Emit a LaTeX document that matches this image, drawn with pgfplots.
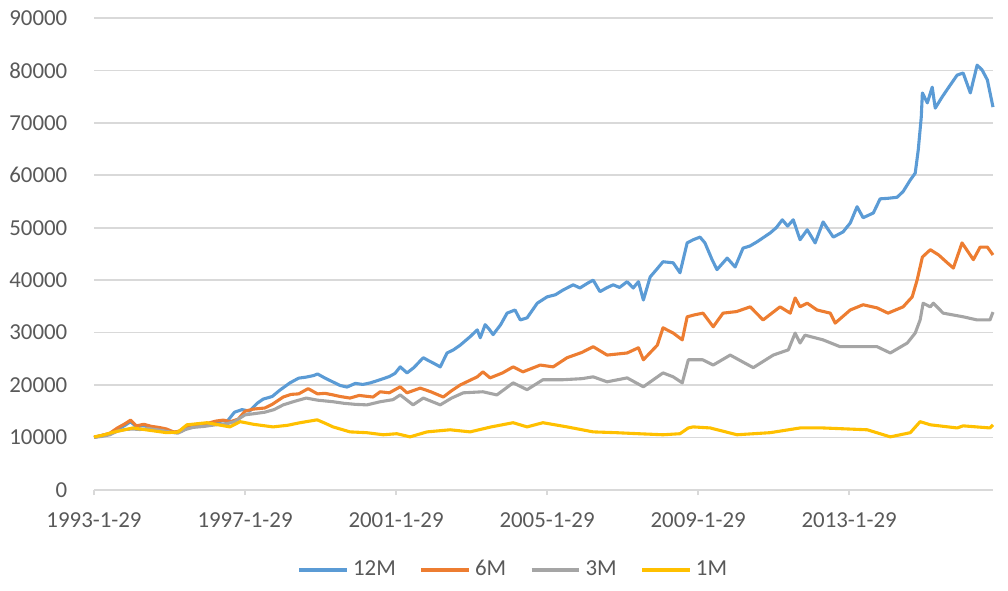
\documentclass[border=0pt]{standalone}
\usepackage{pgfplots}
\pgfplotsset{compat=1.18}
\usepackage{fontspec}
\setmainfont{Carlito}
\definecolor{c12}{RGB}{91,155,213}
\definecolor{c6}{RGB}{237,125,49}
\definecolor{c3}{RGB}{165,165,165}
\definecolor{c1}{RGB}{255,192,0}
\definecolor{txt}{RGB}{89,89,89}
\definecolor{gridc}{RGB}{217,217,217}
\begin{document}
\begin{tikzpicture}
\begin{axis}[
  scale only axis,
  width=377.6pt, height=198.2pt,
  xmin=1993.08, xmax=2016.89,
  ymin=0, ymax=90000,
  ytick={0,10000,...,90000},
  xtick={1993.08,1997.08,2001.08,2005.08,2009.08,2013.08},
  xticklabels={1993-1-29,1997-1-29,2001-1-29,2005-1-29,2009-1-29,2013-1-29},
  scaled ticks=false,
  /pgf/number format/1000 sep={},
  /pgf/number format/assume math mode=true,
  ymajorgrids,
  grid style={gridc, line width=0.7pt},
  separate axis lines,
  axis x line*=bottom,
  axis y line*=left,
  x axis line style={gridc, line width=0.7pt, -},
  y axis line style={draw=none},
  xtick style={gridc, line width=0.7pt},
  ytick style={draw=none},
  tick align=outside,
  major tick length=2.2pt,
  ticklabel style={font=\fontsize{9.6}{11}\selectfont, text=txt},
  yticklabel style={xshift=-5.5pt},
  xticklabel style={yshift=-4pt},
  legend columns=4,
  legend style={draw=none, fill=none, at={(0.468,-0.17)}, anchor=center,
    font=\fontsize{9.6}{11}\selectfont, text=txt,
    /tikz/every even column/.append style={column sep=8pt}},
  legend image code/.code={\draw[#1, line width=1.3pt] plot coordinates {(0pt,0pt) (20pt,0pt)};},
  clip=false,
  every axis plot/.append style={line width=1.3pt, line join=round},
]
\addplot[c12] coordinates {
(1993.08,10000)(1993.3,10400)(1993.5,10600)(1993.7,11500)(1993.9,12300)(1994.05,13000)(1994.2,12000)(1994.4,12300)(1994.6,12000)(1994.8,11600)(1995.0,11400)(1995.2,11000)(1995.4,11200)(1995.6,12100)(1995.8,12300)(1996.0,12400)(1996.3,12800)(1996.5,13200)(1996.6,13000)(1996.8,14800)(1997.0,15300)(1997.2,15000)(1997.4,16500)(1997.56,17300)(1997.8,17800)(1998.0,19000)(1998.27,20400)(1998.5,21300)(1998.7,21500)(1998.9,21800)(1999.0,22100)(1999.2,21300)(1999.4,20600)(1999.6,19900)(1999.78,19600)(2000.0,20300)(2000.2,20100)(2000.4,20400)
(2000.66,21000)(2000.9,21600)(2001.05,22200)(2001.19,23450)(2001.37,22300)(2001.55,23300)(2001.8,25200)(2001.95,24600)(2002.06,24200)(2002.25,23450)(2002.43,26100)(2002.6,26700)(2002.78,27600)(2003.04,29200)(2003.23,30500)(2003.31,29000)(2003.44,31500)(2003.55,30600)(2003.65,29600)(2003.85,31500)(2004.02,33700)(2004.23,34300)(2004.37,32400)(2004.55,32800)(2004.82,35600)(2005.08,36800)(2005.3,37200)(2005.5,38100)(2005.77,39100)(2005.95,38500)(2006.15,39400)(2006.3,40000)(2006.48,37800)(2006.65,38500)(2006.83,39100)(2007.0,38600)(2007.2,39700)(2007.36,38500)(2007.5,39700)(2007.63,36200)(2007.81,40600)(2008.0,42200)(2008.15,43500)(2008.42,43300)(2008.6,41400)(2008.79,47100)(2008.95,47700)(2009.13,48200)(2009.26,47100)(2009.45,43900)(2009.58,42000)(2009.85,44200)(2010.06,42500)(2010.27,46100)(2010.45,46500)(2010.64,47300)(2010.99,49000)(2011.15,50000)(2011.31,51500)(2011.45,50300)(2011.6,51500)(2011.78,47700)(2011.97,49600)(2012.18,47100)(2012.39,51100)(2012.66,48200)(2012.92,49200)(2013.11,50900)(2013.29,54000)(2013.45,51900)(2013.72,52800)(2013.9,55500)(2014.1,55600)(2014.35,55800)(2014.51,56900)(2014.7,59100)(2014.83,60400)(2014.91,64800)(2014.99,71100)(2015.02,75700)(2015.15,73800)(2015.28,76800)(2015.36,72800)(2015.54,74900)(2015.7,76600)(2015.94,79100)(2016.1,79500)(2016.29,75700)(2016.47,81000)(2016.6,80100)(2016.74,78200)(2016.89,73000)
};
\addlegendentry{12M}
\addplot[c6] coordinates {
(1993.08,10000)(1993.3,10400)(1993.5,10800)(1993.7,11800)(1993.9,12600)(1994.05,13300)(1994.2,12200)(1994.4,12500)(1994.6,12100)(1994.8,11900)(1995.0,11600)(1995.2,11000)(1995.4,11300)(1995.6,12200)(1995.8,12300)(1996.0,12500)(1996.3,13100)(1996.5,13300)(1996.7,13000)(1996.9,13500)(1997.08,15000)(1997.3,15400)(1997.6,15600)(1997.8,16300)(1998.09,17700)(1998.3,18200)(1998.5,18300)(1998.75,19300)(1999.0,18300)(1999.2,18400)(1999.41,18100)(1999.6,17800)(1999.86,17500)(2000.1,18000)(2000.47,17700)
(2000.66,18700)(2000.9,18500)(2001.19,19650)(2001.37,18500)(2001.72,19400)(2002.0,18700)(2002.33,17700)(2002.55,18900)(2002.78,20000)(2003.23,21550)(2003.38,22500)(2003.57,21350)(2003.9,22300)(2004.18,23450)(2004.44,22500)(2004.9,23800)(2005.24,23450)(2005.61,25200)(2006.0,26200)(2006.3,27300)(2006.67,25700)(2007.2,26100)(2007.5,27100)(2007.63,24800)(2008.0,27600)(2008.15,30900)(2008.42,29900)(2008.66,28600)(2008.79,33000)(2009.0,33400)(2009.21,33700)(2009.48,31100)(2009.74,33700)(2010.1,34000)(2010.46,34900)(2010.8,32400)(2011.25,34900)(2011.52,33700)(2011.65,36600)(2011.78,34900)(2011.97,35600)(2012.23,34300)(2012.58,33700)(2012.71,31800)(2013.11,34300)(2013.45,35300)(2013.82,34700)(2014.11,33700)(2014.51,34900)(2014.75,36800)(2014.88,40000)(2015.02,44400)(2015.23,45800)(2015.45,44800)(2015.68,43300)(2015.84,42300)(2016.07,47100)(2016.37,43900)(2016.55,46300)(2016.74,46300)(2016.89,44800)
};
\addlegendentry{6M}
\addplot[c3] coordinates {
(1993.08,10000)(1993.3,10200)(1993.5,10500)(1993.7,11200)(1993.9,11500)(1994.1,11600)(1994.3,11500)(1994.5,11700)(1994.7,11500)(1994.9,11300)(1995.1,11000)(1995.3,10800)(1995.5,11500)(1995.7,11900)(1996.0,12100)(1996.3,12400)(1996.6,12600)(1996.8,13000)(1997.08,14300)(1997.3,14500)(1997.6,14800)(1997.85,15300)(1998.09,16200)(1998.4,16900)(1998.7,17500)(1999.0,17100)(1999.41,16800)(1999.7,16500)(2000.0,16300)(2000.31,16200)
(2000.66,16800)(2001.0,17200)(2001.19,18100)(2001.53,16200)(2001.8,17500)(2002.25,16200)(2002.55,17500)(2002.86,18500)(2003.38,18700)(2003.75,18100)(2004.18,20400)(2004.55,19100)(2004.97,21000)(2005.5,21000)(2006.0,21200)(2006.3,21550)(2006.67,20600)(2007.2,21350)(2007.63,19650)(2008.15,22300)(2008.42,21550)(2008.66,20400)(2008.82,24800)(2009.2,24800)(2009.48,23800)(2009.93,25700)(2010.54,23300)(2011.07,25700)(2011.47,26700)(2011.65,29900)(2011.78,28000)(2011.91,29500)(2012.39,28600)(2012.84,27300)(2013.82,27300)(2014.17,26100)(2014.62,28000)(2014.83,29900)(2014.96,32400)(2015.04,35600)(2015.23,34900)(2015.31,35600)(2015.57,33700)(2016.1,33000)(2016.47,32400)(2016.81,32400)(2016.89,33900)
};
\addlegendentry{3M}
\addplot[c1] coordinates {
(1993.08,10100)(1993.3,10400)(1993.6,11000)(1994.11,11800)(1994.5,11400)(1995.0,10900)(1995.3,11000)(1995.54,12400)(1996.07,12800)(1996.68,12000)(1996.95,13000)(1997.3,12500)(1997.82,12000)(1998.2,12300)(1998.54,12800)(1998.99,13350)(1999.2,12700)(1999.41,12000)(1999.86,11050)(2000.3,10900)
(2000.74,10500)(2001.1,10700)(2001.45,10100)(2001.9,11050)(2002.51,11450)(2003.04,11050)(2003.6,12000)(2004.18,12800)(2004.55,12000)(2004.97,12800)(2005.61,12000)(2006.3,11050)(2006.9,10900)(2007.5,10700)(2008.15,10500)(2008.6,10700)(2008.82,11800)(2008.95,12000)(2009.4,11800)(2010.11,10500)(2010.99,10900)(2011.78,11800)(2012.39,11800)(2013.56,11450)(2014.17,10100)(2014.7,10900)(2014.96,13000)(2015.23,12400)(2015.94,11800)(2016.1,12200)(2016.81,11800)(2016.89,12400)
};
\addlegendentry{1M}
\path (rel axis cs:-0.1046,-0.214) (rel axis cs:1.0167,1.0381);
\end{axis}
\end{tikzpicture}
\end{document}
